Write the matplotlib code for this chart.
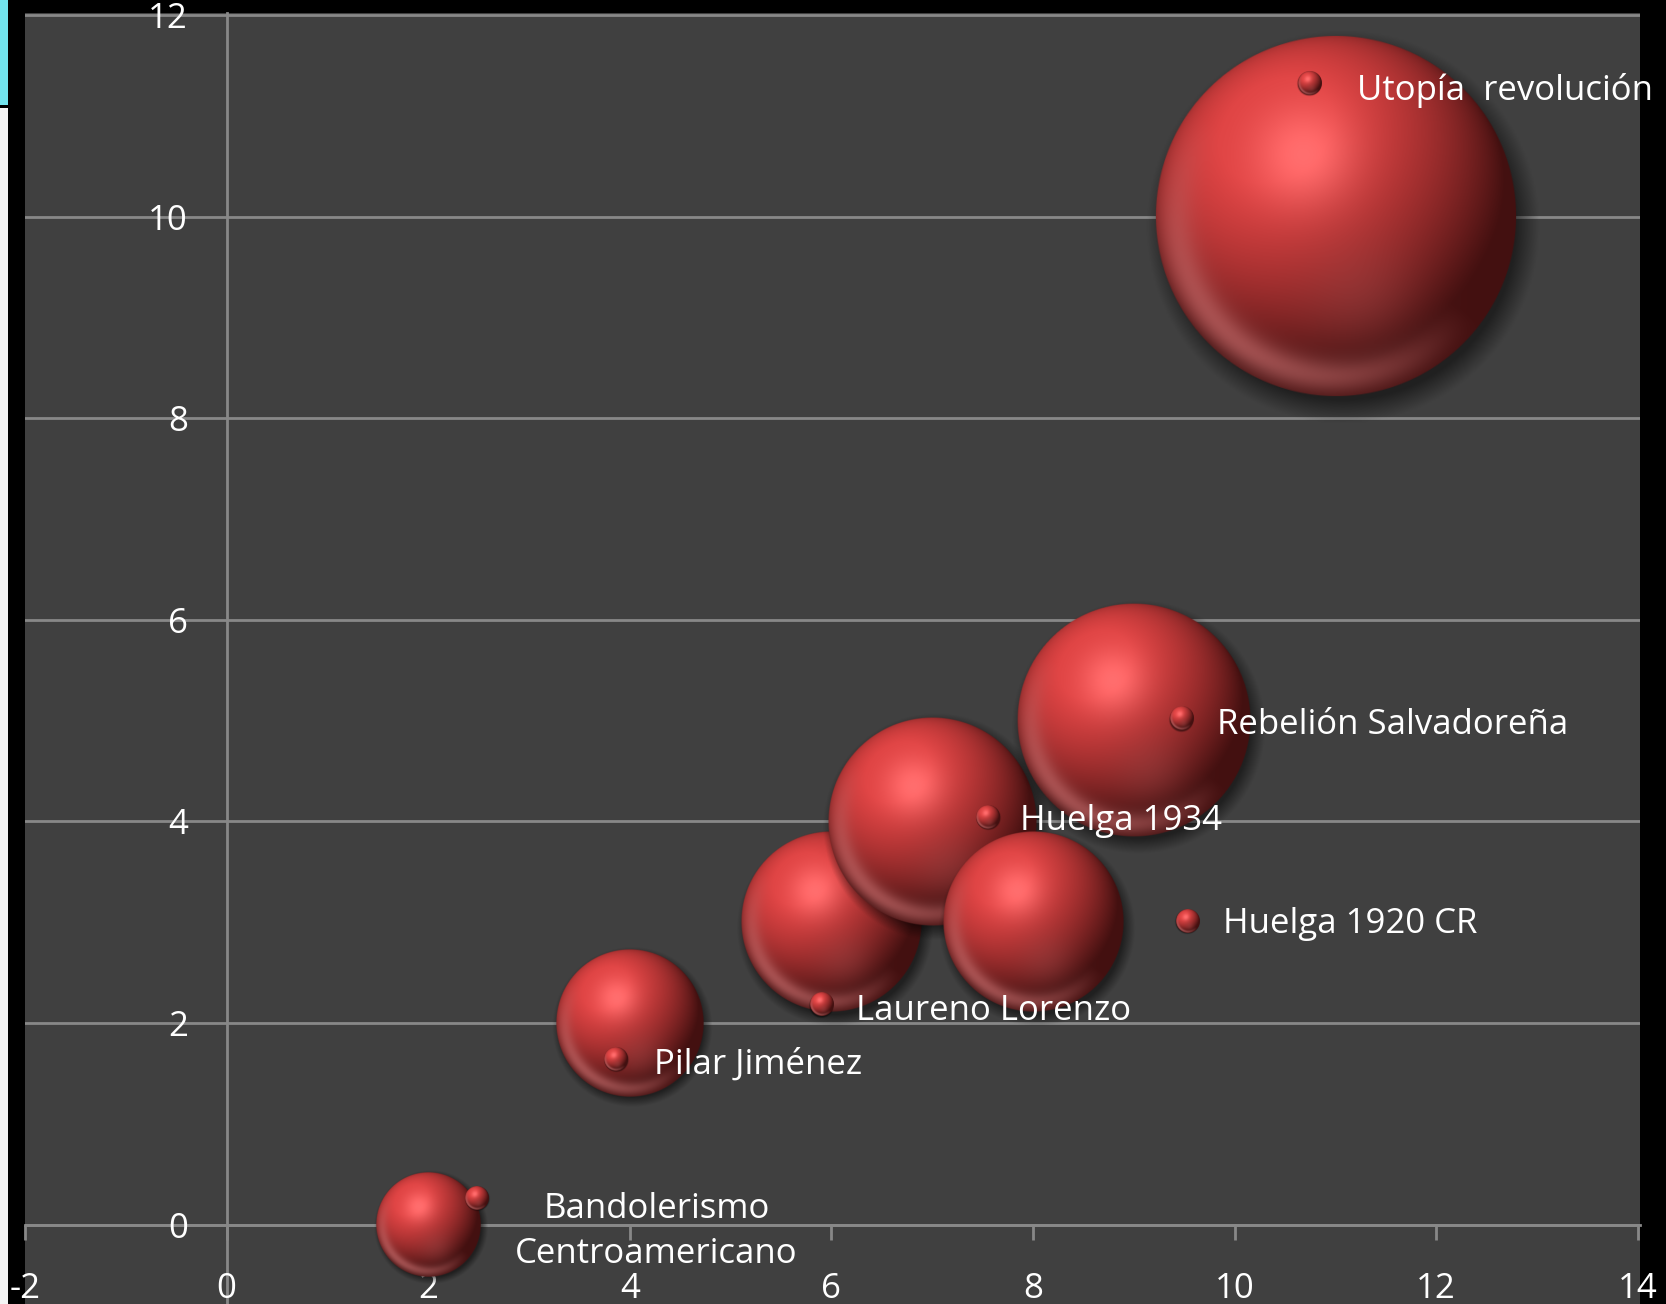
import numpy as np
import matplotlib
matplotlib.use("Agg")
import matplotlib.pyplot as plt
from matplotlib.patches import Rectangle

# big bubbles (x, y, size)
bubble_x = [2, 4, 6, 7, 8, 9, 11]
bubble_y = [0, 2, 3, 4, 3, 5, 10]
bubble_size = [1, 2, 3, 4, 3, 5, 12]

# small labelled points
point_x = [10.74, 9.47, 7.55, 9.53, 5.90, 3.86, 2.48]
point_y = [11.32, 5.02, 4.04, 3.01, 2.18, 1.64, 0.26]
point_labels = ["Utopía  revolución", "Rebelión Salvadoreña", "Huelga 1934",
                "Huelga 1920 CR", "Laureno Lorenzo", "Pilar Jiménez",
                "Bandolerismo\nCentroamericano"]

x_ticks = [-2, 0, 2, 4, 6, 8, 10, 12, 14]
y_ticks = [0, 2, 4, 6, 8, 10, 12]

# label offsets in pixels (dx, dy, ha)
label_offsets = [(48, -7, "left"), (36, -6, "left"), (32, -4, "left"),
                 (36, -3, "left"), (35, -6, "left"), (38, -5, "left"),
                 (180, -33, "center")]

W, H = 1666, 1304
fig = plt.figure(figsize=(W / 100, H / 100), dpi=100)
fig.patch.set_facecolor("black")

# screenshot strip on the left edge
fig.add_artist(Rectangle((0, 1 - 105 / H), 8 / W, 105 / H, transform=fig.transFigure,
                         facecolor="#72e4ee", edgecolor="none"))
fig.add_artist(Rectangle((0, 0), 8 / W, 1 - 108 / H, transform=fig.transFigure,
                         facecolor="#f4f4f4", edgecolor="none"))

ax_left, ax_right, ax_top = 25, 1640, 13
ax = fig.add_axes([ax_left / W, 0, (ax_right - ax_left) / W, (H - ax_top) / H])
ax.set_facecolor("#404040")
ppu = 100.8
xlim = (-2, -2 + (ax_right - ax_left) / ppu)
ylim = (12.02 - (H - ax_top) / ppu, 12.02)

grid_col = "#888888"
for yv in y_ticks:
    ax.axhline(yv, color=grid_col, lw=2, zorder=1)

for s in ["top", "right"]:
    ax.spines[s].set_visible(False)
for s in ["left", "bottom"]:
    ax.spines[s].set_position(("data", 0))
    ax.spines[s].set_color(grid_col)
    ax.spines[s].set_linewidth(2)
    ax.spines[s].set_zorder(1)

font = ["Open Sans", "DejaVu Sans"]
fs = 25
ax.set_xticks(x_ticks)
ax.set_yticks(y_ticks)
ax.set_xticklabels([str(v) for v in x_ticks], family=font, fontsize=fs, color="white")
ax.set_yticklabels([str(v) for v in y_ticks], family=font, fontsize=fs, color="white")
ax.tick_params(axis="x", direction="out", length=11, width=2, color=grid_col, pad=23)
ax.tick_params(axis="y", length=0, pad=28)


def sphere_rgba(n=300):
    u = np.linspace(-1, 1, n)
    U, V = np.meshgrid(u, u)
    r = np.sqrt(U ** 2 + V ** 2)
    Z = np.sqrt(np.clip(1 - r ** 2, 0, 1))
    L = np.array([-0.35, 0.5, 0.79])
    L = L / np.linalg.norm(L)
    diff = np.clip(U * L[0] + V * L[1] + Z * L[2], 0, 1)
    dark = np.array([0.13, 0.02, 0.02])
    mid = np.array([0.87, 0.26, 0.26])
    shade = np.clip(0.18 + 0.88 * diff ** 1.2, 0, 1)
    col = dark + (mid - dark) * shade[..., None]
    spec = np.exp(-((U + 0.18) ** 2 + (V - 0.34) ** 2) / 0.08)
    col = col + np.array([0.15, 0.17, 0.17]) * spec[..., None]
    # soft reflection near lower-left rim
    rim = np.exp(-((r - 0.88) / 0.1) ** 2) * np.clip(-(0.6 * U + 0.8 * V), 0, 1)
    col = col + (np.array([0.80, 0.44, 0.44]) - col) * (0.7 * rim[..., None])
    # lighter patch below centre
    glow = np.exp(-((U - 0.15) ** 2 + (V + 0.45) ** 2) / 0.10) * 0.22
    col = col + (np.array([0.70, 0.36, 0.36]) - col) * glow[..., None]
    col = np.clip(col, 0, 1)
    alpha = np.clip((1 - r) * n / 2, 0, 1)
    return np.dstack([col, alpha])


def shadow_rgba(n=200):
    u = np.linspace(-1.2, 1.2, n)
    U, V = np.meshgrid(u, u)
    r = np.sqrt((U - 0.04) ** 2 + (V + 0.06) ** 2)
    a = 0.5 * np.clip((1.09 - r) / 0.13, 0, 1)
    return np.dstack([np.zeros_like(a), np.zeros_like(a), np.zeros_like(a), a])


SPH = sphere_rgba(400)
SHD = shadow_rgba(200)


def draw_sphere(x, y, rad, z):
    ax.imshow(SHD, extent=(x - 1.2 * rad, x + 1.2 * rad, y - 1.2 * rad, y + 1.2 * rad),
              origin="lower", aspect="auto", interpolation="bilinear", zorder=z)
    ax.imshow(SPH, extent=(x - rad, x + rad, y - rad, y + rad), origin="lower",
              aspect="auto", interpolation="bilinear", zorder=z + 0.1)


k = 0.517
for i, (bx, by, bs) in enumerate(zip(bubble_x, bubble_y, bubble_size)):
    draw_sphere(bx, by, k * np.sqrt(bs), 3 + i * 0.2)

for px, py, lab, (dx, dy, ha) in zip(point_x, point_y, point_labels, label_offsets):
    draw_sphere(px, py, 0.115, 6)
    ax.annotate(lab, (px, py), xytext=(dx, dy), textcoords="offset pixels",
                ha=ha, va="center", family=font, fontsize=fs, color="white",
                linespacing=1.45, zorder=8, annotation_clip=False)

ax.set_xlim(*xlim)
ax.set_ylim(*ylim)

fig.savefig("out.png", dpi=100, facecolor=fig.get_facecolor())
